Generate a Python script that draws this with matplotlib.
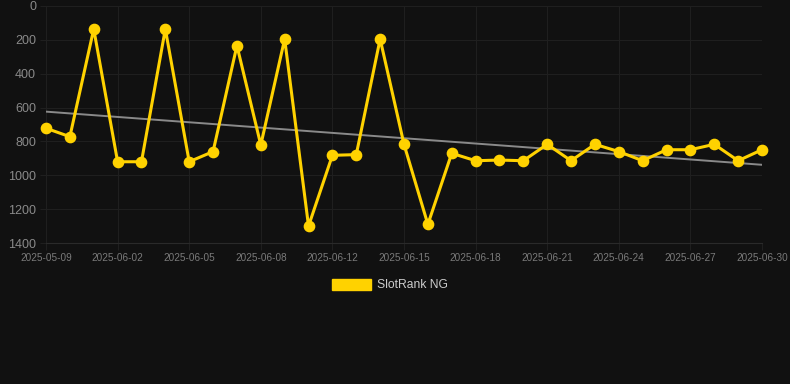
import numpy as np
import matplotlib
matplotlib.use("Agg")
import matplotlib.pyplot as plt
from matplotlib.patches import Patch

plt.rcParams['font.family'] = ['Liberation Sans', 'DejaVu Sans']

# dates (category axis, every third one labelled)
dates = ["2025-05-09", "2025-05-31", "2025-06-01", "2025-06-02", "2025-06-03",
         "2025-06-04", "2025-06-05", "2025-06-06", "2025-06-07", "2025-06-08",
         "2025-06-10", "2025-06-11", "2025-06-12", "2025-06-13", "2025-06-14",
         "2025-06-15", "2025-06-16", "2025-06-17", "2025-06-18", "2025-06-19",
         "2025-06-20", "2025-06-21", "2025-06-22", "2025-06-23", "2025-06-24",
         "2025-06-25", "2025-06-26", "2025-06-27", "2025-06-28", "2025-06-29",
         "2025-06-30"]
rank = [722, 772, 136, 920, 920, 136, 920, 860, 234, 821,
        195, 1300, 882, 878, 195, 817, 1290, 870, 914, 910,
        914, 817, 914, 817, 860, 914, 849, 849, 817, 914, 849]
trend_start = 624
trend_end = 938
series_name = "SlotRank NG"

bg = "#111111"
gold = "#FFD200"
grid_col = "#1f1f1f"

x = np.arange(len(dates))

fig = plt.figure(figsize=(7.9, 3.84), dpi=100, facecolor=bg)
ax = fig.add_axes([46/790, 1 - 243/384, 716/790, 237/384])
ax.set_facecolor(bg)

ax.plot([x[0], x[-1]], [trend_start, trend_end], color="#8a8a8a", lw=1.4, zorder=2)
ax.plot(x, rank, color=gold, lw=2.2, marker="o", ms=7.4, zorder=3, clip_on=False)

ax.set_xlim(x[0], x[-1])
ax.set_ylim(1400, 0)
ax.set_yticks(range(0, 1401, 200))
ax.set_xticks(x[::3])
ax.set_xticklabels(dates[::3])

ax.grid(True, color=grid_col, lw=0.8)
for s in ax.spines.values():
    s.set_visible(False)
ax.spines["bottom"].set_visible(True)
ax.spines["bottom"].set_color("#2a2a2a")
ax.tick_params(axis="x", colors=grid_col, labelcolor="#7a7a7a", labelsize=7.2,
               length=5, pad=2.5)
ax.tick_params(axis="y", colors=grid_col, labelcolor="#8a8a8a", labelsize=9,
               length=4.3, pad=2.9)

fig.legend(handles=[Patch(facecolor=gold, edgecolor=gold, label=series_name)],
           loc="center", bbox_to_anchor=(0.494, 1 - 285/384), frameon=False,
           handlelength=3.2, handleheight=1.0, handletextpad=0.5,
           labelcolor="#cccccc", fontsize=8.7)

fig.savefig("out.png", dpi=100, facecolor=bg)
